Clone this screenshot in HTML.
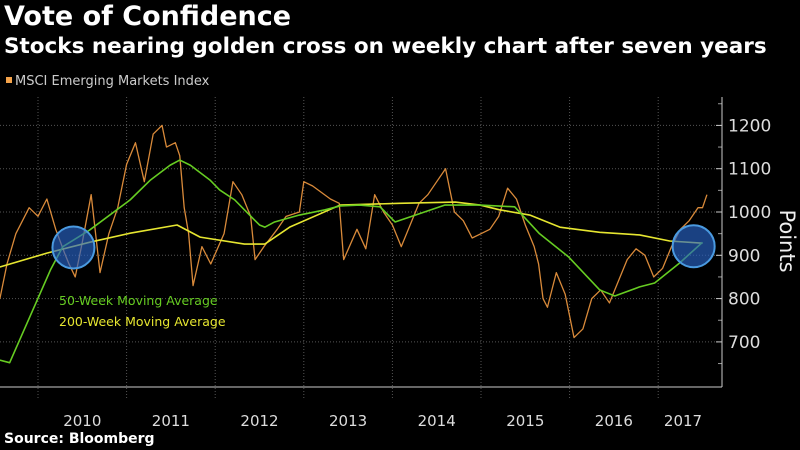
<!DOCTYPE html>
<html><head><meta charset="utf-8">
<style>
body{margin:0;background:#000;width:800px;height:450px;overflow:hidden;font-family:"DejaVu Sans",sans-serif;color:#fff}
#t1{position:absolute;left:4px;top:1px;font-size:27px;font-weight:bold}
#t2{position:absolute;left:4px;top:34px;font-size:21.5px;font-weight:bold}
#src{position:absolute;left:4px;top:431px;font-size:14px;font-weight:bold}
svg{position:absolute;left:0;top:0}
</style></head><body>
<div id="t1">Vote of Confidence</div>
<div id="t2">Stocks nearing golden cross on weekly chart after seven years</div>
<div id="src">Source: Bloomberg</div>
<svg id="c" width="800" height="450"></svg>
<script>
const priceT=[2009.57,2009.65,2009.75,2009.9,2010.0,2010.1,2010.2,2010.3,2010.35,2010.42,2010.5,2010.6,2010.7,2010.8,2010.9,2011.0,2011.1,2011.2,2011.3,2011.4,2011.45,2011.55,2011.6,2011.65,2011.7,2011.75,2011.85,2011.95,2012.1,2012.2,2012.3,2012.4,2012.45,2012.55,2012.7,2012.8,2012.95,2013.0,2013.1,2013.3,2013.4,2013.45,2013.6,2013.7,2013.8,2013.9,2014.0,2014.1,2014.2,2014.3,2014.4,2014.5,2014.6,2014.7,2014.8,2014.9,2015.0,2015.1,2015.2,2015.3,2015.4,2015.5,2015.6,2015.65,2015.7,2015.75,2015.85,2015.95,2016.05,2016.15,2016.25,2016.35,2016.45,2016.55,2016.65,2016.75,2016.85,2016.95,2017.05,2017.15,2017.25,2017.35,2017.45,2017.5,2017.55];
const priceV=[800,880,950,1010,990,1030,960,905,880,850,930,1040,860,950,1010,1110,1160,1070,1180,1200,1150,1160,1130,1010,950,830,920,880,950,1070,1040,990,890,920,960,990,1000,1070,1060,1030,1020,890,960,915,1040,1000,970,920,970,1020,1040,1070,1100,1000,980,940,950,960,990,1055,1030,970,920,880,800,780,860,810,710,730,800,820,790,840,890,915,900,850,870,920,960,980,1010,1010,1040];
const ma50T=[2009.57,2009.68,2010.14,2010.28,2010.58,2011.04,2011.27,2011.49,2011.6,2011.72,2011.94,2012.05,2012.22,2012.33,2012.5,2012.56,2012.67,2012.95,2013.24,2013.41,2013.63,2013.86,2014.03,2014.59,2014.99,2015.38,2015.66,2015.99,2016.34,2016.51,2016.79,2016.96,2017.24,2017.5];
const ma50V=[658,652,866,920,958,1028,1074,1108,1120,1108,1074,1051,1028,1005,970,965,977,993,1005,1014,1016,1012,977,1016,1016,1012,950,896,820,806,827,836,882,930];
const ma200T=[2009.57,2010.1,2010.58,2011.04,2011.57,2011.83,2012.33,2012.56,2012.84,2013.41,2014.08,2014.71,2014.99,2015.21,2015.55,2015.89,2016.34,2016.79,2017.13,2017.5];
const ma200V=[873,905,930,951,970,942,926,926,965,1016,1020,1023,1016,1005,993,965,953,947,933,928];
const yTicks=[700,800,900,1000,1100,1200];
const years=[2010,2011,2012,2013,2014,2015,2016,2017];
const NS="http://www.w3.org/2000/svg";
const svg=document.getElementById('c');
const X=t=>38+(t-2010)*88.6;
const Y=v=>212-(v-1000)*0.433;
function el(tag,attrs,parent){const e=document.createElementNS(NS,tag);for(const k in attrs)e.setAttribute(k,attrs[k]);(parent||svg).appendChild(e);return e;}
yTicks.forEach(v=>{
 const g=el('line',{x1:0,x2:722,y1:Y(v),y2:Y(v),stroke:'#555','stroke-dasharray':'1,2','stroke-width':1});
 
 
 const tk=el('line',{x1:716,x2:722,y1:Y(v),y2:Y(v),stroke:'#ccc'});
 
 
 const tx=el('text',{x:728,y:Y(v)+6,fill:'#ddd','font-size':17,'font-family':'DejaVu Sans'});
 tx.textContent=v;
 
 
});
[650,750,850,950,1050,1150,1250].forEach(v=>{
 const tk=el('line',{x1:718,x2:722,y1:Y(v),y2:Y(v),stroke:'#999'});
 
 
});
years.forEach(yr=>{
 const x=X(yr);
 const g=el('line',{x1:x,x2:x,y1:97,y2:400,stroke:'#555','stroke-dasharray':'1,2'});
 
 
});
years.forEach(yr=>{
 const x=Math.min(X(yr+0.5),683);
 const tx=el('text',{x:x,y:426,fill:'#ddd','font-size':15,'text-anchor':'middle','font-family':'DejaVu Sans'});
 tx.textContent=yr;
 
 
});
const ax=el('line',{x1:722,x2:722,y1:97,y2:387,stroke:'#ccc'});


const bx=el('line',{x1:0,x2:722,y1:387,y2:387,stroke:'#ccc'});


const yl=el('text',{x:780,y:241,fill:'#eee','font-size':21,'text-anchor':'middle',transform:'rotate(90 780 241)','font-family':'DejaVu Sans'});
yl.textContent='Points';


function pl(T,V,color,w,name){
 const p=el('polyline',{points:T.map((t,i)=>X(t)+','+Y(V[i])).join(' '),fill:'none',stroke:color,'stroke-width':w,'stroke-linejoin':'round'});
 
 
}
pl(priceT,priceV,'#d98a3a',1.3,'msci-price-line');
pl(ma200T,ma200V,'#e6e630',1.6,'ma200-line');
pl(ma50T,ma50V,'#66cc22',1.6,'ma50-line');
[[2010.4,918],[2017.4,921]].forEach(c=>{
 const ci=el('circle',{cx:X(c[0]),cy:Y(c[1]),r:21,fill:'rgba(40,100,200,0.65)',stroke:'#4a9ae0','stroke-width':2});
 
 
});
const lg=el('rect',{x:6,y:77,width:6,height:6,fill:'#f5a34a'});


const lt=el('text',{x:15,y:85,fill:'#ccc','font-size':13,'font-family':'DejaVu Sans'});
lt.textContent='MSCI Emerging Markets Index';


const a1=el('text',{x:59,y:305,fill:'#66cc22','font-size':12.5,'font-family':'DejaVu Sans'});
a1.textContent='50-Week Moving Average';


const a2=el('text',{x:59,y:326,fill:'#e6e630','font-size':12.5,'font-family':'DejaVu Sans'});
a2.textContent='200-Week Moving Average';


</script>
</body></html>
